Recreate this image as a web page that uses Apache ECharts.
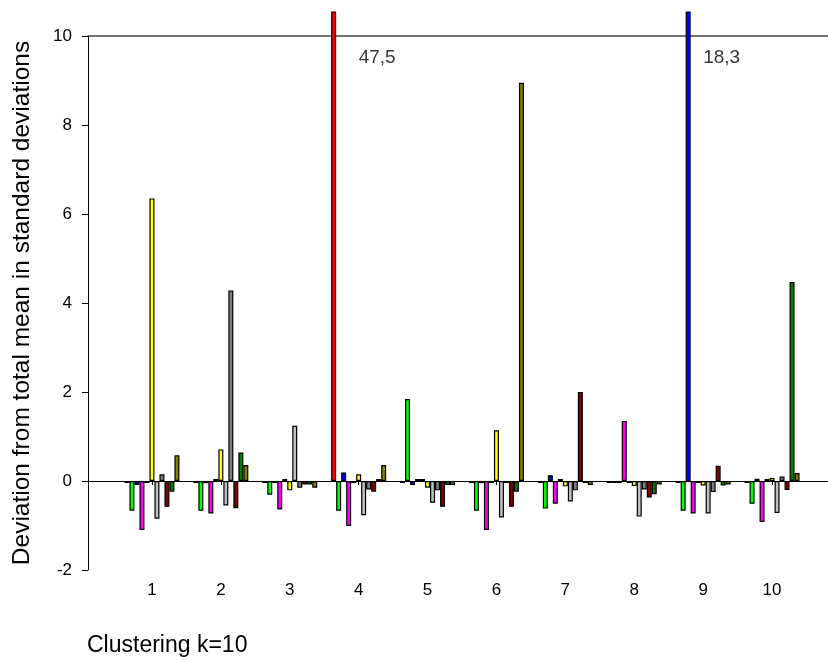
<!DOCTYPE html>
<html>
<head>
<meta charset="utf-8">
<script src="https://cdn.jsdelivr.net/npm/echarts@6/dist/echarts.min.js"></script>
<style>html,body{margin:0;padding:0;background:#fff}#c{width:828px;height:660px}</style>
</head>
<body>
<div id="c"></div>
<script>
// ---- data ----
var categories = ['1','2','3','4','5','6','7','8','9','10'];
var seriesNames = ['red','lime','blue','magenta','cyan','yellow','lightgray','gray','darkred','darkgreen','olive'];
var red       = [-0.02, -0.02, -0.02, 47.5, -0.03, -0.02, -0.02, -0.02, -0.02, -0.02];
var lime      = [-0.67, -0.67, -0.31, -0.67, 1.84, -0.67, -0.62, -0.02, -0.67, -0.51];
var blue      = [-0.09, -0.05, -0.02, 0.19, -0.09, -0.05, 0.13, -0.02, 18.3, 0.05];
var magenta   = [-1.10, -0.73, -0.64, -1.01, 0.03, -1.10, -0.51, 1.35, -0.73, -0.92];
var cyan      = [-0.02, 0.02, 0.03, -0.02, 0.02, -0.02, 0.02, -0.02, -0.02, 0.02];
var yellow    = [6.35, 0.71, -0.21, 0.15, -0.15, 1.14, -0.12, -0.11, -0.10, 0.07];
var lightgray = [-0.85, -0.55, 1.24, -0.77, -0.49, -0.82, -0.46, -0.80, -0.73, -0.72];
var gray      = [0.15, 4.28, -0.15, -0.19, -0.21, -0.03, -0.21, -0.19, -0.25, 0.10];
var darkred   = [-0.58, -0.61, -0.08, -0.24, -0.58, -0.58, 2.00, -0.37, 0.34, -0.20];
var darkgreen = [-0.24, 0.64, -0.08, 0.02, -0.09, -0.24, -0.02, -0.30, -0.10, 4.47];
var olive     = [0.58, 0.36, -0.15, 0.36, -0.09, 8.95, -0.09, -0.08, -0.08, 0.18];
var yTicks = [-2, 0, 2, 4, 6, 8, 10];
var xTicks = [1,2,3,4,5,6,7,8,9,10];

var values = [red, lime, blue, magenta, cyan, yellow, lightgray, gray, darkred, darkgreen, olive];
var colors = ['#ff0000','#00ff00','#0000ff','#ff00ff','#00ffff','#ffff00','#c0c0c0','#808080','#800000','#008000','#808000'];

var FONT = 'Liberation Sans, Arial, sans-serif';
var axisMax = 10;
var labelY = 9.5;

var series = values.map(function (arr, i) {
  return {
    name: seriesNames[i], type: 'bar', xAxisIndex: 2, yAxisIndex: 1,
    data: arr, barWidth: 5, barGap: '0%', barMinHeight: 2,
    itemStyle: { color: colors[i], borderColor: '#000', borderWidth: 1.2 },
    clip: true, animation: false
  };
});
// labels for clipped bars
var over = [];
values.forEach(function (arr) {
  arr.forEach(function (v, j) { if (v > axisMax) over.push({ value: [j, labelY], raw: v }); });
});
series.push({
  type: 'scatter', xAxisIndex: 2, yAxisIndex: 1, symbolSize: 0, data: over, animation: false,
  label: { show: true, position: 'right', distance: 0, color: '#000', fontSize: 19, fontFamily: FONT,
    formatter: function (p) { return String(p.data.raw).replace('.', ','); } }
});

var option = {
  animation: false,
  title: { text: 'Clustering k=10', left: 87, top: 634, padding: 0,
    textStyle: { fontSize: 23, fontWeight: 'normal', color: '#000', fontFamily: FONT } },
  grid: [
    { left: 88, right: 0, top: 36, bottom: 90 },
    { left: 117.5, right: 21.5, top: 12, bottom: 90 }
  ],
  xAxis: [
    { type: 'value', gridIndex: 0, position: 'bottom', min: 0.071, max: 10.813,
      axisLine: { show: true, lineStyle: { color: '#000', width: 1 } },
      axisTick: { show: true, length: 4, customValues: xTicks, lineStyle: { color: '#000' } },
      axisLabel: { customValues: xTicks, color: '#000', fontSize: 17, fontFamily: FONT, margin: 12 },
      splitLine: { show: false } },
    { type: 'value', gridIndex: 0, position: 'top', min: 0.071, max: 10.813,
      axisLine: { show: true, lineStyle: { color: '#444', width: 1.5 } },
      axisTick: { show: false }, axisLabel: { show: false }, splitLine: { show: false } },
    { type: 'category', gridIndex: 1, data: categories, show: false, boundaryGap: true }
  ],
  yAxis: [
    { type: 'value', gridIndex: 0, min: -2, max: 10, interval: 2,
      name: 'Deviation from total mean in standard deviations', nameLocation: 'middle', nameGap: 53,
      nameTextStyle: { fontSize: 24.5, color: '#000', fontFamily: FONT },
      axisLine: { show: true, lineStyle: { color: '#000', width: 1 } },
      axisTick: { show: true, length: 6, lineStyle: { color: '#000' } },
      axisLabel: { color: '#000', fontSize: 17, fontFamily: FONT, margin: 16 },
      splitLine: { show: false } },
    { type: 'value', gridIndex: 1, min: -2, max: 10.539, show: false, splitLine: { show: false } }
  ],
  series: series
};
var chart = echarts.init(document.getElementById('c'), null, { renderer: 'canvas' });
chart.setOption(option);
</script>
</body>
</html>
